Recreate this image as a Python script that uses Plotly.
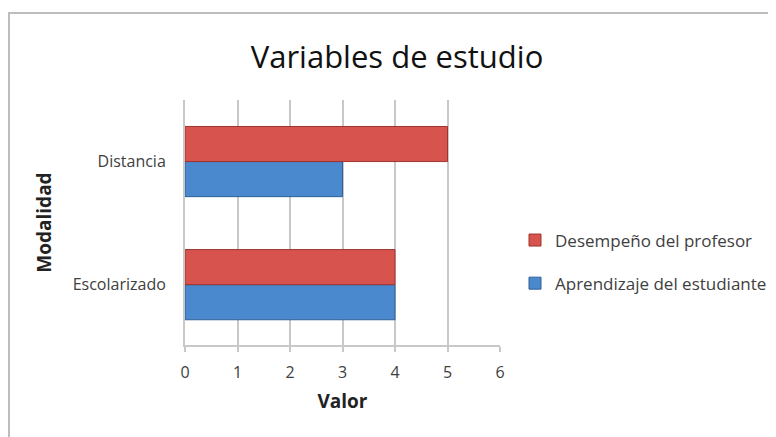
import plotly.graph_objects as go

categories = ["Escolarizado", "Distancia"]
aprendizaje = [4, 3]
desempeno = [4, 5]
x_ticks = [0, 1, 2, 3, 4, 5, 6]

FONT = "Open Sans"
OFF = 8  # page body margin
W, H = 776 - OFF, 437 - OFF
L, T = 185 - OFF, 100 - OFF
R = W - (500 - OFF)
B = H - (345 - OFF)
pw, ph = W - L - R, H - T - B

def px_x(x):  # page pixel -> paper x
    return (x - OFF - L) / pw

def px_y(y):  # page pixel -> paper y
    return (H - B - (y - OFF)) / ph

fig = go.Figure()
fig.add_trace(go.Bar(
    y=categories, x=aprendizaje, orientation="h", name="Aprendizaje del estudiante",
    marker=dict(color="#4A89CE", line=dict(color="#2F5F96", width=1)),
    legendgroup="a", legendrank=2,
))
fig.add_trace(go.Bar(
    y=categories, x=desempeno, orientation="h", name="Desempeño del profesor",
    marker=dict(color="#D7534D", line=dict(color="#9E3430", width=1)),
    legendgroup="b", legendrank=1,
))

fig.add_shape(type="rect", xref="paper", yref="paper",
              x0=px_x(9), y0=px_y(460), x1=px_x(800), y1=px_y(13),
              line=dict(color="#BDBDBD", width=2), fillcolor="rgba(0,0,0,0)", layer="below")

fig.update_layout(
    width=W, height=H,
    margin=dict(l=L, r=R, t=T, b=B, autoexpand=False),
    paper_bgcolor="white", plot_bgcolor="white",
    barmode="group", bargap=0.43, bargroupgap=0,
    font=dict(family=FONT, color="#404040", size=16),
    title=dict(text="Variables de estudio", x=(397 - OFF) / W, xanchor="center",
               y=1 - (57 - OFF) / H, yanchor="middle", xref="container", yref="container",
               font=dict(family=FONT, size=31, color="#111111")),
    xaxis=dict(range=[0, 6], tickvals=x_ticks, ticktext=[str(v) for v in x_ticks],
               showgrid=True, gridcolor="#C8C8C8", gridwidth=2,
               showline=True, linecolor="#C8C8C8", linewidth=2,
               ticks="outside", ticklen=5, tickcolor="#C8C8C8", tickwidth=2,
               ticklabelstandoff=7, zeroline=False,
               tickfont=dict(size=16, color="#404040"),
               title=dict(text="<b>Valor</b>", standoff=12,
                          font=dict(size=19, color="#222222"))),
    yaxis=dict(range=[-0.49, 1.5], showgrid=False, zeroline=False,
               showline=True, linecolor="#C8C8C8", linewidth=2,
               ticks="", ticklabelstandoff=14,
               tickfont=dict(size=16, color="#404040"),
               title=dict(text="<b>Modalidad</b>", standoff=16,
                          font=dict(size=19, color="#222222"))),
    legend=dict(x=(515 - OFF) / W, y=px_y(262), xref="container",
                xanchor="left", yanchor="middle",
                traceorder="grouped", tracegroupgap=18,
                font=dict(size=17, color="#404040"), itemwidth=30,
                bgcolor="rgba(0,0,0,0)"),
)

fig.write_html("out.html")
